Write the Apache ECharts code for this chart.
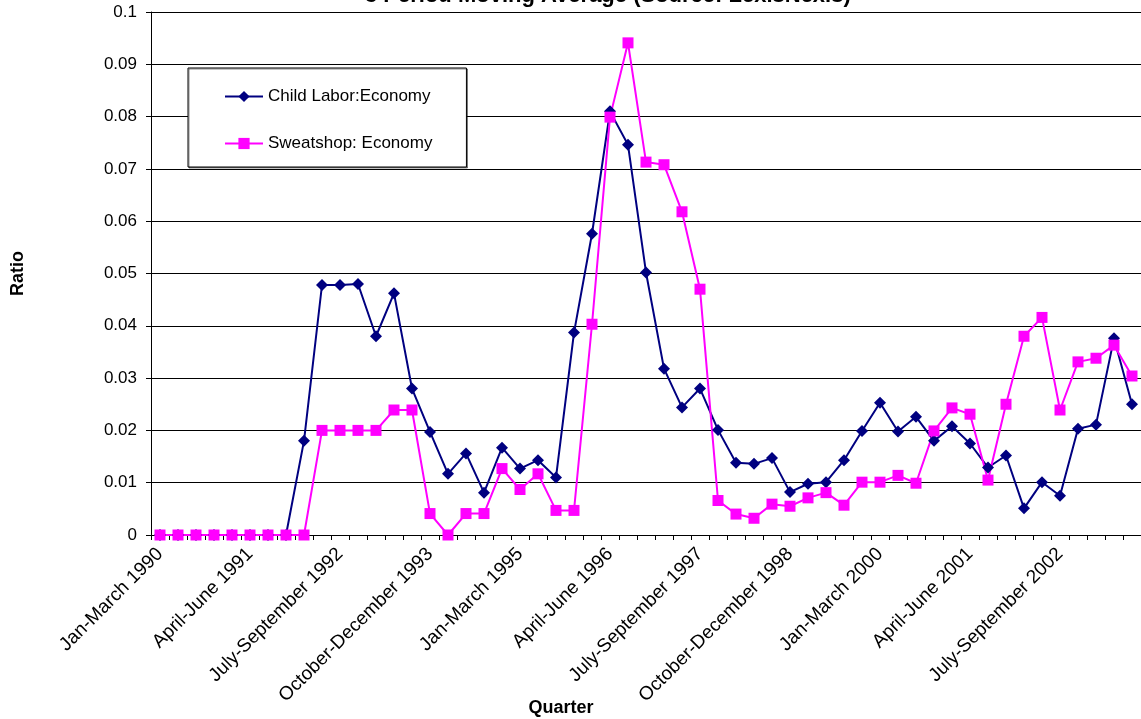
<!DOCTYPE html>
<html>
<head>
<meta charset="utf-8">
<script src="https://cdn.jsdelivr.net/npm/echarts@6/dist/echarts.min.js"></script>
<style>
  html, body { margin: 0; padding: 0; background: #fff; }
  #chart { width: 1141px; height: 719px; }
</style>
</head>
<body>
<div id="chart"></div>
<script>
// Quarterly categories, Jan-March 1990 through July-September 2003
const quarters = [
  'Jan-March 1990', 'April-June 1990', 'July-September 1990', 'October-December 1990',
  'Jan-March 1991', 'April-June 1991', 'July-September 1991', 'October-December 1991',
  'Jan-March 1992', 'April-June 1992', 'July-September 1992', 'October-December 1992',
  'Jan-March 1993', 'April-June 1993', 'July-September 1993', 'October-December 1993',
  'Jan-March 1994', 'April-June 1994', 'July-September 1994', 'October-December 1994',
  'Jan-March 1995', 'April-June 1995', 'July-September 1995', 'October-December 1995',
  'Jan-March 1996', 'April-June 1996', 'July-September 1996', 'October-December 1996',
  'Jan-March 1997', 'April-June 1997', 'July-September 1997', 'October-December 1997',
  'Jan-March 1998', 'April-June 1998', 'July-September 1998', 'October-December 1998',
  'Jan-March 1999', 'April-June 1999', 'July-September 1999', 'October-December 1999',
  'Jan-March 2000', 'April-June 2000', 'July-September 2000', 'October-December 2000',
  'Jan-March 2001', 'April-June 2001', 'July-September 2001', 'October-December 2001',
  'Jan-March 2002', 'April-June 2002', 'July-September 2002', 'October-December 2002',
  'Jan-March 2003', 'April-June 2003', 'July-September 2003'
];

// 3-period moving average of the ratio, per quarter
const childLabor = [
  0, 0, 0, 0, 0, 0, 0, 0, 0.0180, 0.0478,
  0.0478, 0.0480, 0.0380, 0.0462, 0.0280, 0.0197, 0.0117, 0.0156, 0.0081, 0.0167,
  0.0127, 0.0143, 0.0110, 0.0387, 0.0576, 0.0810, 0.0746, 0.0502, 0.0318, 0.0244,
  0.0280, 0.0201, 0.0138, 0.0136, 0.0147, 0.0082, 0.0098, 0.0101, 0.0143, 0.0199,
  0.0253, 0.0198, 0.0226, 0.0180, 0.0208, 0.0175, 0.0129, 0.0152, 0.0051, 0.0101,
  0.0075, 0.0203, 0.0211, 0.0376, 0.0250
];
const sweatshop = [
  0, 0, 0, 0, 0, 0, 0, 0, 0, 0.0200,
  0.0200, 0.0200, 0.0200, 0.0239, 0.0239, 0.0041, 0, 0.0041, 0.0041, 0.0127,
  0.0087, 0.0117, 0.0047, 0.0047, 0.0403, 0.0799, 0.0941, 0.0713, 0.0708, 0.0618,
  0.0470, 0.0066, 0.0040, 0.0032, 0.0059, 0.0055, 0.0071, 0.0081, 0.0057, 0.0101,
  0.0101, 0.0114, 0.0099, 0.0199, 0.0243, 0.0231, 0.0105, 0.0250, 0.0380, 0.0416,
  0.0239, 0.0331, 0.0338, 0.0363, 0.0304
];

const seriesNames = ['Child Labor:Economy', 'Sweatshop: Economy'];
const FONT = '"Liberation Sans", Arial, sans-serif';

const chart = echarts.init(document.getElementById('chart'), null, { renderer: 'canvas' });
chart.setOption({
  animation: false,
  backgroundColor: '#ffffff',
  textStyle: { fontFamily: FONT, color: '#000' },
  title: {
    text: '3 Period Moving Average (Source: LexisNexis)',
    left: 365,
    top: -15,
    padding: 0,
    textStyle: { fontFamily: FONT, fontSize: 22, fontWeight: 'bold', color: '#000' }
  },
  graphic: [
    {
      type: 'text',
      x: 561,
      y: 708,
      style: {
        text: 'Quarter',
        fontFamily: FONT,
        fontSize: 18,
        fontWeight: 'bold',
        fill: '#000',
        align: 'center',
        verticalAlign: 'middle'
      }
    }
  ],
  legend: {
    orient: 'vertical',
    left: 188,
    top: 68,
    padding: [20, 34, 15, 36],
    itemGap: 30,
    itemWidth: 38,
    itemHeight: 14,
    backgroundColor: '#ffffff',
    borderColor: '#000',
    borderWidth: 1,
    shadowColor: 'rgba(0,0,0,0.45)',
    shadowOffsetX: 1,
    shadowOffsetY: 1,
    shadowBlur: 0,
    textStyle: { fontFamily: FONT, fontSize: 17, color: '#000' },
    data: seriesNames
  },
  grid: {
    left: 151,
    top: 12,
    width: 994.4,
    height: 523,
    containLabel: false
  },
  xAxis: {
    type: 'category',
    data: quarters,
    boundaryGap: true,
    axisLine: { lineStyle: { color: '#000', width: 1 } },
    axisTick: { show: true, interval: 0, length: 5, inside: false, lineStyle: { color: '#000' } },
    axisLabel: {
      interval: 4,
      rotate: 45,
      margin: 16,
      fontFamily: FONT,
      fontSize: 19,
      color: '#000'
    },
    splitLine: { show: false }
  },
  yAxis: {
    type: 'value',
    min: 0,
    max: 0.1,
    interval: 0.01,
    name: 'Ratio',
    nameLocation: 'middle',
    nameGap: 124,
    nameRotate: 90,
    nameTextStyle: { fontFamily: FONT, fontSize: 18, fontWeight: 'bold', color: '#000' },
    axisLine: { show: true, lineStyle: { color: '#000', width: 1 } },
    axisTick: { show: true, length: 5, lineStyle: { color: '#000' } },
    axisLabel: {
      margin: 14,
      fontFamily: FONT,
      fontSize: 17,
      color: '#000',
      formatter: v => String(Math.round(v * 100) / 100)
    },
    splitLine: { show: true, lineStyle: { color: '#000', width: 1 } }
  },
  series: [
    {
      name: seriesNames[0],
      type: 'line',
      data: childLabor,
      symbol: 'diamond',
      symbolSize: 12,
      showAllSymbol: true,
      itemStyle: { color: '#000080' },
      lineStyle: { color: '#000080', width: 2 }
    },
    {
      name: seriesNames[1],
      type: 'line',
      data: sweatshop,
      symbol: 'rect',
      symbolSize: 11,
      showAllSymbol: true,
      itemStyle: { color: '#ff00ff' },
      lineStyle: { color: '#ff00ff', width: 2 }
    }
  ]
});
</script>
</body>
</html>
